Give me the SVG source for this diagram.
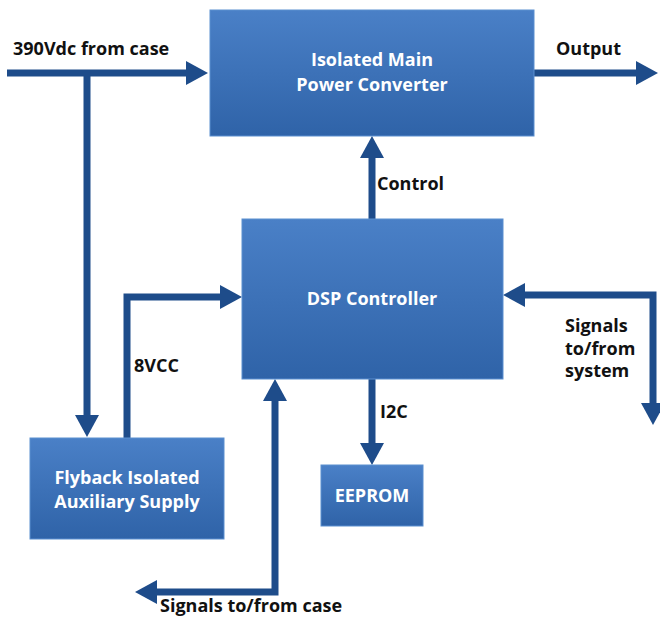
<svg xmlns="http://www.w3.org/2000/svg" width="660" height="618" viewBox="0 0 660 618">
<defs>
<linearGradient id="boxg" x1="0" y1="0" x2="0" y2="1">
<stop offset="0" stop-color="#4a80c7"/>
<stop offset="1" stop-color="#2f63a8"/>
</linearGradient>
<marker id="ah" markerUnits="userSpaceOnUse" markerWidth="22" markerHeight="24" viewBox="0 0 22 24" refX="0" refY="12" orient="auto-start-reverse">
<path d="M0,0 L22,12 L0,24 Z" fill="#1e4c8a"/>
</marker>
<style>
.box{fill:url(#boxg);stroke:#5b8fd0;stroke-width:1}
.bt{font-family:"Open Sans","Noto Sans",sans-serif;font-weight:700;font-size:18px;fill:#ffffff;text-anchor:middle}
.lb{font-family:"Open Sans","Noto Sans",sans-serif;font-weight:700;font-size:18px;fill:#111111}
.cn{fill:none;stroke:#1e4c8a;stroke-width:7;stroke-linejoin:miter}
</style>
</defs>
<rect width="660" height="618" fill="#ffffff"/>
<g id="connectors">
<path class="cn" d="M7,73 H186" marker-end="url(#ah)"/>
<path class="cn" d="M87,73 V415" marker-end="url(#ah)"/>
<path class="cn" d="M127,438 V297 H220" marker-end="url(#ah)"/>
<path class="cn" d="M372,219 V158" marker-end="url(#ah)"/>
<path class="cn" d="M534,73 H636" marker-end="url(#ah)"/>
<path class="cn" d="M653,403 V295 H525" marker-start="url(#ah)" marker-end="url(#ah)"/>
<path class="cn" d="M372,379 V443" marker-end="url(#ah)"/>
<path class="cn" d="M157,592 H275 V401" marker-start="url(#ah)" marker-end="url(#ah)"/>
</g>
<g id="main-converter">
<rect class="box" x="210" y="10" width="324" height="126"/>
<text class="bt" x="372" y="66">Isolated Main</text>
<text class="bt" x="372" y="91">Power Converter</text>
</g>
<g id="dsp-controller">
<rect class="box" x="242" y="219" width="261" height="160"/>
<text class="bt" x="372" y="305">DSP Controller</text>
</g>
<g id="flyback">
<rect class="box" x="30" y="438" width="194" height="101"/>
<text class="bt" x="127" y="484">Flyback Isolated</text>
<text class="bt" x="127" y="508">Auxiliary Supply</text>
</g>
<g id="eeprom">
<rect class="box" x="321" y="465" width="102" height="61"/>
<text class="bt" x="372" y="502">EEPROM</text>
</g>
<g id="labels">
<text class="lb" x="13" y="55">390Vdc from case</text>
<text class="lb" x="556" y="55">Output</text>
<text class="lb" x="377" y="190">Control</text>
<text class="lb" x="134" y="372">8VCC</text>
<text class="lb" x="380" y="418">I2C</text>
<text class="lb" x="565" y="332">Signals</text>
<text class="lb" x="565" y="355">to/from</text>
<text class="lb" x="565" y="377">system</text>
<text class="lb" x="160" y="612">Signals to/from case</text>
</g>
</svg>
